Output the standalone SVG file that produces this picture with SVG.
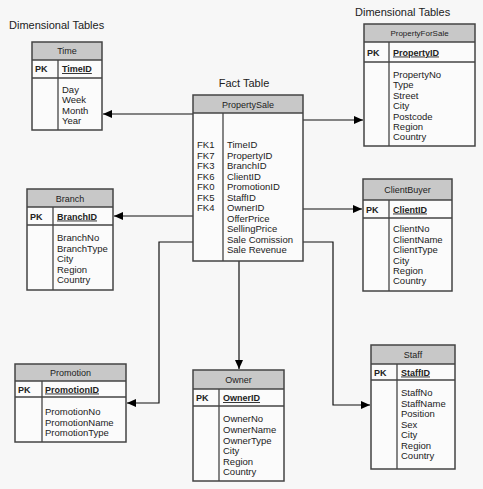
<svg xmlns="http://www.w3.org/2000/svg" width="483" height="489" viewBox="0 0 483 489">
<style>
text{font-family:"Liberation Sans",Arial,sans-serif;fill:#222}
.lbl{font-size:11px}
.t{font-size:9px;text-anchor:middle}
.pk{font-size:9px;font-weight:bold}
.pkf{font-size:9px;font-weight:bold;text-decoration:underline}
.f{font-size:9.5px}
.body{fill:#fbfbfb}
.hdr{fill:#c8c8c8}
.bd{fill:none;stroke:#444;stroke-width:1.5}
.ln{stroke:#444;stroke-width:1.3}
.con{fill:none;stroke:#111;stroke-width:1.2}
</style>
<defs>
<marker id="ah" markerUnits="userSpaceOnUse" markerWidth="9" markerHeight="8" refX="9" refY="4" orient="auto">
<path d="M0,0 L9,4 L0,8 z" fill="#000"/>
</marker>
</defs>
<rect width="483" height="489" fill="#f7f7f7"/>
<text class="lbl" x="9" y="29">Dimensional Tables</text>
<text class="lbl" x="355" y="16">Dimensional Tables</text>
<text class="lbl" x="244" y="87" text-anchor="middle">Fact Table</text>

<g id="connectors">
<path class="con" d="M193,114 H103" marker-end="url(#ah)"/>
<path class="con" d="M303,120 H363" marker-end="url(#ah)"/>
<path class="con" d="M193,216 H114" marker-end="url(#ah)"/>
<path class="con" d="M303,209 H362" marker-end="url(#ah)"/>
<path class="con" d="M193,242 H159 V403 H127" marker-end="url(#ah)"/>
<path class="con" d="M303,242 H333 V405 H370" marker-end="url(#ah)"/>
<path class="con" d="M239,261 V369" marker-end="url(#ah)"/>
</g>

<g id="time">
<rect class="body" x="32" y="42" width="70" height="88"/>
<rect class="hdr" x="32" y="42" width="70" height="18"/>
<line class="ln" x1="32" y1="60" x2="102" y2="60"/>
<line class="ln" x1="32" y1="78" x2="102" y2="78"/>
<line class="ln" x1="58" y1="60" x2="58" y2="130"/>
<rect class="bd" x="32" y="42" width="70" height="88"/>
<text class="t" x="67" y="54">Time</text>
<text class="pk" x="35" y="72">PK</text>
<text class="pkf" x="62" y="72">TimeID</text>
<text class="f" x="62" y="92.5">Day</text>
<text class="f" x="62" y="103">Week</text>
<text class="f" x="62" y="113.5">Month</text>
<text class="f" x="62" y="124">Year</text>
</g>

<g id="propertyforsale">
<rect class="body" x="364" y="24" width="111" height="122"/>
<rect class="hdr" x="364" y="24" width="111" height="18"/>
<line class="ln" x1="364" y1="42" x2="475" y2="42"/>
<line class="ln" x1="364" y1="62" x2="475" y2="62"/>
<line class="ln" x1="389" y1="42" x2="389" y2="146"/>
<rect class="bd" x="364" y="24" width="111" height="122"/>
<text class="t" x="419.5" y="36" style="font-size:8px">PropertyForSale</text>
<text class="pk" x="367" y="55.5">PK</text>
<text class="pkf" x="393" y="55.5">PropertyID</text>
<text class="f" x="393" y="78">PropertyNo</text>
<text class="f" x="393" y="88.4">Type</text>
<text class="f" x="393" y="98.8">Street</text>
<text class="f" x="393" y="109.2">City</text>
<text class="f" x="393" y="119.6">Postcode</text>
<text class="f" x="393" y="130">Region</text>
<text class="f" x="393" y="140.4">Country</text>
</g>

<g id="propertysale">
<rect class="body" x="193" y="95" width="110" height="166"/>
<rect class="hdr" x="193" y="95" width="110" height="18"/>
<line class="ln" x1="193" y1="113" x2="303" y2="113"/>
<line class="ln" x1="223" y1="113" x2="223" y2="261"/>
<rect class="bd" x="193" y="95" width="110" height="166"/>
<text class="t" x="248" y="107.5">PropertySale</text>
<text class="f" x="197" y="148.3">FK1</text>
<text class="f" x="197" y="158.8">FK7</text>
<text class="f" x="197" y="169.3">FK3</text>
<text class="f" x="197" y="179.8">FK6</text>
<text class="f" x="197" y="190.3">FK0</text>
<text class="f" x="197" y="200.8">FK5</text>
<text class="f" x="197" y="211.3">FK4</text>
<text class="f" x="227" y="148.3">TimeID</text>
<text class="f" x="227" y="158.8">PropertyID</text>
<text class="f" x="227" y="169.3">BranchID</text>
<text class="f" x="227" y="179.8">ClientID</text>
<text class="f" x="227" y="190.3">PromotionID</text>
<text class="f" x="227" y="200.8">StaffID</text>
<text class="f" x="227" y="211.3">OwnerID</text>
<text class="f" x="227" y="221.8">OfferPrice</text>
<text class="f" x="227" y="232.3">SellingPrice</text>
<text class="f" x="227" y="242.8">Sale Comission</text>
<text class="f" x="227" y="253.3">Sale Revenue</text>
</g>

<g id="branch">
<rect class="body" x="27" y="189" width="86" height="101"/>
<rect class="hdr" x="27" y="189" width="86" height="18"/>
<line class="ln" x1="27" y1="207" x2="113" y2="207"/>
<line class="ln" x1="27" y1="225" x2="113" y2="225"/>
<line class="ln" x1="53" y1="207" x2="53" y2="290"/>
<rect class="bd" x="27" y="189" width="86" height="101"/>
<text class="t" x="70" y="201.5">Branch</text>
<text class="pk" x="30" y="219.5">PK</text>
<text class="pkf" x="57" y="219.5">BranchID</text>
<text class="f" x="57" y="241.3">BranchNo</text>
<text class="f" x="57" y="251.8">BranchType</text>
<text class="f" x="57" y="262.3">City</text>
<text class="f" x="57" y="272.8">Region</text>
<text class="f" x="57" y="283.3">Country</text>
</g>

<g id="clientbuyer">
<rect class="body" x="363" y="179" width="89" height="112"/>
<rect class="hdr" x="363" y="179" width="89" height="21"/>
<line class="ln" x1="363" y1="200" x2="452" y2="200"/>
<line class="ln" x1="363" y1="218" x2="452" y2="218"/>
<line class="ln" x1="389" y1="200" x2="389" y2="291"/>
<rect class="bd" x="363" y="179" width="89" height="112"/>
<text class="t" x="407.5" y="193">ClientBuyer</text>
<text class="pk" x="366" y="212.5">PK</text>
<text class="pkf" x="393" y="212.5">ClientID</text>
<text class="f" x="393" y="232.3">ClientNo</text>
<text class="f" x="393" y="242.7">ClientName</text>
<text class="f" x="393" y="253.1">ClientType</text>
<text class="f" x="393" y="263.5">City</text>
<text class="f" x="393" y="273.9">Region</text>
<text class="f" x="393" y="284.3">Country</text>
</g>

<g id="promotion">
<rect class="body" x="15" y="364" width="111" height="78"/>
<rect class="hdr" x="15" y="364" width="111" height="17"/>
<line class="ln" x1="15" y1="381" x2="126" y2="381"/>
<line class="ln" x1="15" y1="397" x2="126" y2="397"/>
<line class="ln" x1="42" y1="381" x2="42" y2="442"/>
<rect class="bd" x="15" y="364" width="111" height="78"/>
<text class="t" x="70.5" y="376">Promotion</text>
<text class="pk" x="18" y="392.5">PK</text>
<text class="pkf" x="45" y="392.5">PromotionID</text>
<text class="f" x="45" y="415.3">PromotionNo</text>
<text class="f" x="45" y="425.5">PromotionName</text>
<text class="f" x="45" y="435.7">PromotionType</text>
</g>

<g id="owner">
<rect class="body" x="193" y="370" width="91" height="111"/>
<rect class="hdr" x="193" y="370" width="91" height="19"/>
<line class="ln" x1="193" y1="389" x2="284" y2="389"/>
<line class="ln" x1="193" y1="406" x2="284" y2="406"/>
<line class="ln" x1="219" y1="389" x2="219" y2="481"/>
<rect class="bd" x="193" y="370" width="91" height="111"/>
<text class="t" x="238.5" y="383">Owner</text>
<text class="pk" x="196" y="401">PK</text>
<text class="pkf" x="223" y="401">OwnerID</text>
<text class="f" x="223" y="422.3">OwnerNo</text>
<text class="f" x="223" y="432.9">OwnerName</text>
<text class="f" x="223" y="443.5">OwnerType</text>
<text class="f" x="223" y="454.1">City</text>
<text class="f" x="223" y="464.7">Region</text>
<text class="f" x="223" y="475.3">Country</text>
</g>

<g id="staff">
<rect class="body" x="371" y="345" width="84" height="124"/>
<rect class="hdr" x="371" y="345" width="84" height="19"/>
<line class="ln" x1="371" y1="364" x2="455" y2="364"/>
<line class="ln" x1="371" y1="380" x2="455" y2="380"/>
<line class="ln" x1="397" y1="364" x2="397" y2="469"/>
<rect class="bd" x="371" y="345" width="84" height="124"/>
<text class="t" x="413" y="358">Staff</text>
<text class="pk" x="374" y="375.5">PK</text>
<text class="pkf" x="401" y="375.5">StaffID</text>
<text class="f" x="401" y="396.3">StaffNo</text>
<text class="f" x="401" y="406.8">StaffName</text>
<text class="f" x="401" y="417.3">Position</text>
<text class="f" x="401" y="427.8">Sex</text>
<text class="f" x="401" y="438.3">City</text>
<text class="f" x="401" y="448.8">Region</text>
<text class="f" x="401" y="459.3">Country</text>
</g>
</svg>
